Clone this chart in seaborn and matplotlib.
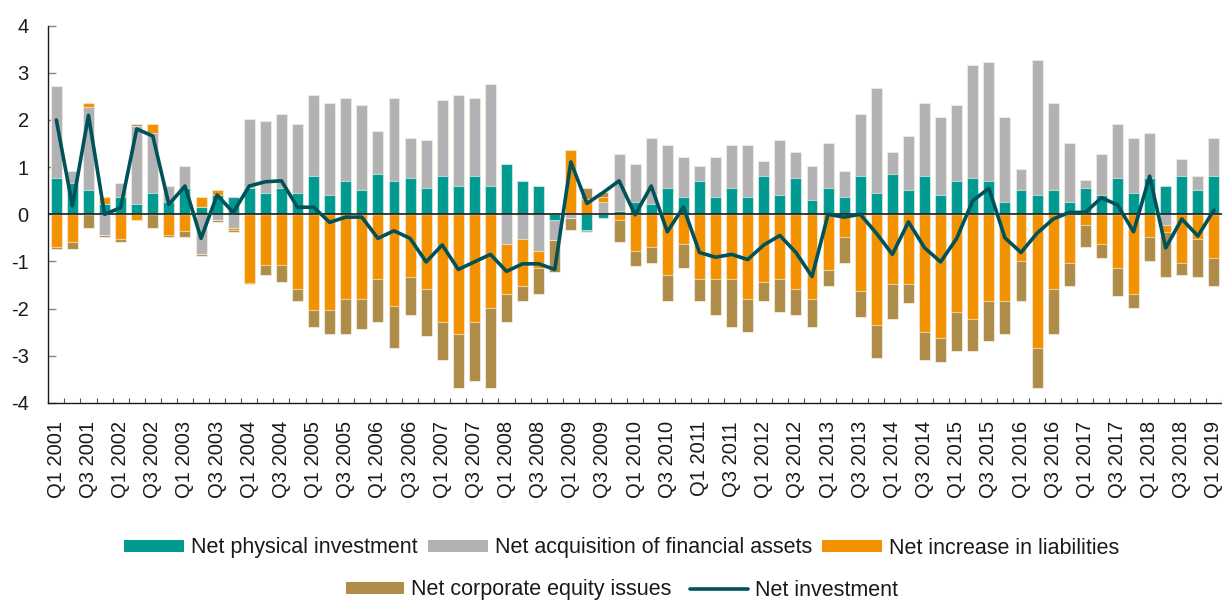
import numpy as np
import pandas as pd
import matplotlib
matplotlib.use("Agg")
import matplotlib.pyplot as plt
import matplotlib.patches as mpatches
from matplotlib.lines import Line2D
import seaborn as sns

# ---------------- data ----------------
quarters = [f"Q{q} {y}" for y in range(2001, 2020) for q in range(1, 5)][:73]

physical = [0.76, 0.67, 0.52, 0.21, 0.37, 0.21, 0.46, 0.26, 0.56, 0.16,
            0.41, 0.37, 0.56, 0.46, 0.56, 0.46, 0.81, 0.41, 0.71, 0.52,
            0.85, 0.71, 0.76, 0.56, 0.81, 0.61, 0.81, 0.61, 1.07, 0.71,
            0.61, -0.12, 0.00, -0.33, -0.08, 0.06, 0.26, 0.21, 0.56, 0.37,
            0.71, 0.37, 0.56, 0.37, 0.81, 0.41, 0.76, 0.31, 0.56, 0.37,
            0.81, 0.46, 0.86, 0.52, 0.81, 0.41, 0.71, 0.76, 0.71, 0.26,
            0.52, 0.41, 0.52, 0.26, 0.56, 0.41, 0.76, 0.46, 0.76, 0.61,
            0.81, 0.52, 0.81]
financial = [1.96, 0.25, 1.75, -0.44, 0.30, 1.66, 1.26, 0.35, 0.46, -0.84,
             -0.13, -0.28, 1.46, 1.51, 1.56, 1.46, 1.71, 1.96, 1.76, 1.80,
             0.92, 1.76, 0.86, 1.01, 1.61, 1.91, 1.66, 2.16, -0.64, -0.53,
             -0.78, -0.42, -0.08, -0.05, 0.26, 1.21, 0.81, 1.41, 0.91, 0.84,
             0.31, 0.84, 0.91, 1.10, 0.31, 1.16, 0.56, 0.71, 0.96, 0.55,
             1.31, 2.21, 0.46, 1.15, 1.56, 1.66, 1.61, 2.41, 2.51, 1.81,
             0.45, 2.86, 1.85, 1.26, 0.16, 0.86, 1.16, 1.16, 0.96, -0.23,
             0.36, 0.30, 0.81]
liabilities = [-0.69, -0.58, 0.10, 0.16, -0.53, -0.13, 0.20, -0.44, -0.35, 0.21,
               0.11, -0.05, -1.45, -1.07, -1.07, -1.59, -2.03, -2.03, -1.79, -1.79,
               -1.38, -1.94, -1.33, -1.59, -2.28, -2.54, -2.28, -1.98, -1.04, -1.00,
               -0.35, 0.03, 1.37, 0.32, 0.11, -0.13, -0.78, -0.69, -1.29, -0.64,
               -1.38, -1.38, -1.38, -1.79, -1.43, -1.38, -1.59, -1.79, -1.19, -0.49,
               -1.63, -2.34, -1.48, -1.48, -2.49, -2.63, -2.08, -2.23, -1.83, -1.83,
               -0.98, -2.84, -1.58, -1.03, -0.23, -0.64, -1.14, -1.68, -0.49, -0.15,
               -1.04, -0.53, -0.93]
equity = [-0.04, -0.15, -0.28, -0.04, -0.05, 0.05, -0.28, -0.04, -0.13, -0.04,
          -0.04, -0.05, -0.03, -0.22, -0.36, -0.24, -0.36, -0.51, -0.75, -0.65,
          -0.90, -0.90, -0.80, -0.99, -0.80, -1.15, -1.25, -1.71, -0.60, -0.30,
          -0.55, -0.69, -0.25, 0.24, 0.10, -0.46, -0.31, -0.35, -0.54, -0.49,
          -0.45, -0.75, -1.01, -0.70, -0.40, -0.70, -0.54, -0.60, -0.34, -0.54,
          -0.55, -0.70, -0.75, -0.41, -0.60, -0.51, -0.81, -0.66, -0.85, -0.71,
          -0.85, -0.85, -0.96, -0.50, -0.46, -0.29, -0.59, -0.30, -0.49, -0.95,
          -0.25, -0.80, -0.60]
net_investment = [2.00, 0.18, 2.10, 0.00, 0.14, 1.81, 1.66, 0.21, 0.60, -0.51,
                  0.41, 0.04, 0.60, 0.69, 0.71, 0.15, 0.15, -0.17, -0.06, -0.06,
                  -0.51, -0.35, -0.51, -1.01, -0.65, -1.17, -1.01, -0.85, -1.21, -1.05,
                  -1.05, -1.17, 1.11, 0.23, 0.46, 0.71, -0.01, 0.60, -0.37, 0.15,
                  -0.81, -0.91, -0.85, -0.96, -0.65, -0.45, -0.81, -1.32, 0.00, -0.06,
                  0.00, -0.40, -0.85, -0.16, -0.71, -1.01, -0.51, 0.29, 0.55, -0.50,
                  -0.81, -0.40, -0.10, 0.04, 0.04, 0.35, 0.20, -0.37, 0.81, -0.71,
                  -0.10, -0.46, 0.09]

series_names = ["Net physical investment", "Net acquisition of financial assets",
                "Net increase in liabilities", "Net corporate equity issues"]
line_name = "Net investment"
bar_colors = ["#009A90", "#B2B2B4", "#F39200", "#AF8D49"]
line_color = "#00525A"

# ---------------- style ----------------
sns.set_theme(style="white")
plt.rcParams["font.family"] = ["Liberation Sans", "DejaVu Sans"]
plt.rcParams["axes.unicode_minus"] = False

df = pd.DataFrame({"quarter": quarters, "physical": physical, "financial": financial,
                   "liabilities": liabilities, "equity": equity,
                   "net": net_investment})
vals = df[["physical", "financial", "liabilities", "equity"]].to_numpy()
pos_cum = np.cumsum(np.clip(vals, 0, None), axis=1)
neg_cum = np.cumsum(np.clip(vals, None, 0), axis=1)

W, H = 1222, 603
fig = plt.figure(figsize=(W / 100, H / 100), dpi=100)
ax = fig.add_axes([48.3 / W, 1 - 402.9 / H, (W - 48.3) / W, (402.9 - 25.7) / H])

# stacked bars (positive and negative stacks separately), drawn top layer first
for k in range(3, -1, -1):
    for cum in (pos_cum, neg_cum):
        sns.barplot(x=df["quarter"], y=cum[:, k], color=bar_colors[k], saturation=1,
                    width=0.68, errorbar=None, edgecolor=(1, 1, 1, 0.55),
                    linewidth=0.8, ax=ax, zorder=1)

ax.axhline(0, color="#1a1a1a", lw=1.2, zorder=2.5)

sns.lineplot(x=np.arange(len(quarters)), y=df["net"].to_numpy(), color=line_color,
             linewidth=2.6, ax=ax, zorder=4)

ax.set_xlabel("")
ax.set_ylabel("")
ax.set_xlim(-0.5, len(quarters) - 0.5)
ax.set_ylim(-4, 4)
ax.set_yticks(range(-4, 5))
ax.set_yticklabels([str(v) for v in range(-4, 5)])
ax.set_xticks(range(0, len(quarters), 2))
ax.set_xticklabels(quarters[::2], rotation=90)
ax.set_xticks(np.arange(-0.5, len(quarters), 1), minor=True)

ax.tick_params(axis="x", which="major", bottom=True, length=0, pad=13,
               labelsize=14.5, labelcolor="#1a1a1a")
ax.tick_params(axis="x", which="minor", bottom=True, direction="in", length=3.5,
               color="#555555", width=0.8)
ax.tick_params(axis="y", left=True, direction="in", length=5.5, color="#888888",
               width=1, pad=14, labelsize=14.5, labelcolor="#1a1a1a")

for s in ["top", "right"]:
    ax.spines[s].set_visible(False)
for s in ["left", "bottom"]:
    ax.spines[s].set_color("#1a1a1a")
    ax.spines[s].set_linewidth(1.0)

# ---------------- legend ----------------
fs = 15.5
fs_px = fs * 100 / 72
h1 = [mpatches.Patch(facecolor=bar_colors[i], edgecolor="none") for i in range(3)]
leg1 = fig.legend(h1, series_names[:3], loc="center", bbox_to_anchor=(622 / W, 1 - 548 / H),
                  ncol=3, frameon=False, fontsize=fs, handlelength=60 / fs_px,
                  handleheight=10 / fs_px, handletextpad=7 / fs_px,
                  columnspacing=10 / fs_px, borderaxespad=0, borderpad=0)
h2 = [mpatches.Patch(facecolor=bar_colors[3], edgecolor="none"),
      Line2D([0], [0], color=line_color, lw=2.6)]
leg2 = fig.legend(h2, [series_names[3], line_name], loc="center",
                  bbox_to_anchor=(622 / W, 1 - 590 / H), ncol=2, frameon=False,
                  fontsize=fs, handlelength=58 / fs_px, handleheight=10 / fs_px,
                  handletextpad=7 / fs_px, columnspacing=18 / fs_px,
                  borderaxespad=0, borderpad=0)
for leg in (leg1, leg2):
    for t in leg.get_texts():
        t.set_color("#1a1a1a")

fig.savefig("out.png", dpi=100)
